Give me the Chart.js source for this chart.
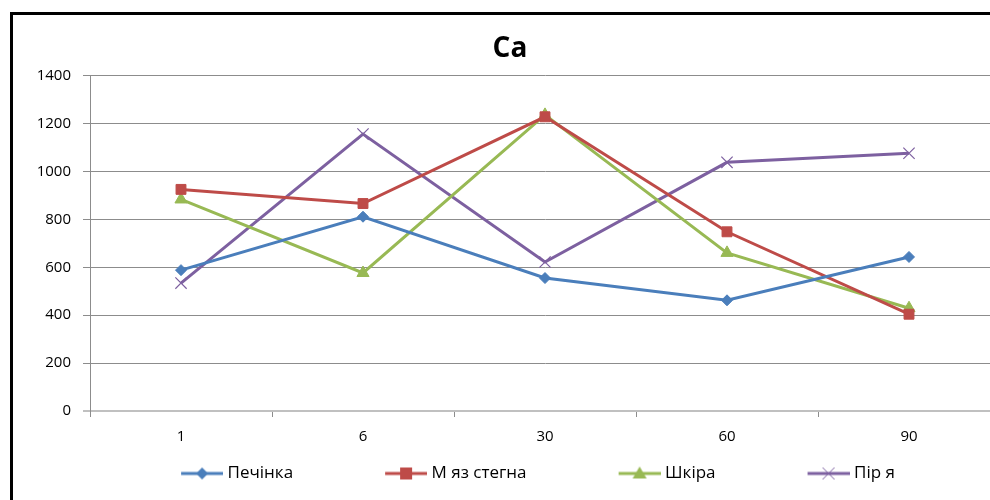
<!DOCTYPE html>
<html>
<head>
<meta charset="utf-8">
<script src="https://cdn.jsdelivr.net/npm/chart.js@4"></script>
<style>
html,body{margin:0;padding:0;background:#fff;overflow:hidden;width:990px;height:500px;}
#wrap{position:absolute;left:0;top:0;width:1020px;height:500px;}
</style>
</head>
<body>
<div id="wrap"><canvas id="c" width="1020" height="500"></canvas></div>
<script>
const categories = ['1', '6', '30', '60', '90'];
const seriesNames = ['Печінка', 'М яз стегна', 'Шкіра', 'Пір я'];
const pechinka = [588, 811, 555, 462, 643];
const myazStegna = [925, 866, 1228, 748, 404];
const shkira = [883, 576, 1236, 660, 429];
const pirYa = [534, 1156, 622, 1038, 1076];
const yTicks = [0, 200, 400, 600, 800, 1000, 1200, 1400];

const colors = ['#4A7EBB', '#BE4B48', '#98B954', '#7D60A0'];
const styles = ['rectRot', 'rect', 'triangle', 'crossRot'];
const radii = [5.5, 7, 7, 8];

const LEG_BOX = 120;      // legend box slot width (includes gap before icon)
const ICON_W = LEG_BOX + 8;
const LEGEND_SHIFT = -13;

function legendIcon(i) {
  const c = document.createElement('canvas');
  c.width = ICON_W; c.height = 16;
  const x = c.getContext('2d');
  const x0 = ICON_W - 42, x1 = ICON_W;
  x.strokeStyle = colors[i]; x.lineWidth = 3;
  x.beginPath(); x.moveTo(x0, 8); x.lineTo(x1, 8); x.stroke();
  x.fillStyle = colors[i];
  const cx = (x0 + x1) / 2, cy = 8;
  if (i === 0) { x.beginPath(); x.moveTo(cx, cy-6); x.lineTo(cx+6, cy); x.lineTo(cx, cy+6); x.lineTo(cx-6, cy); x.closePath(); x.fill(); }
  else if (i === 1) { x.fillRect(cx-6, cy-6, 12, 12); }
  else if (i === 2) { x.beginPath(); x.moveTo(cx, cy-7); x.lineTo(cx+7, cy+5); x.lineTo(cx-7, cy+5); x.closePath(); x.fill(); }
  else { x.lineWidth = 1; x.beginPath(); x.moveTo(cx-6, cy-6); x.lineTo(cx+6, cy+6); x.moveTo(cx+6, cy-6); x.lineTo(cx-6, cy+6); x.stroke(); }
  return c;
}

const allData = [pechinka, myazStegna, shkira, pirYa];
const datasets = allData.map((d, i) => ({
  label: seriesNames[i],
  data: d,
  borderColor: colors[i],
  backgroundColor: colors[i],
  borderWidth: 3,
  pointStyle: styles[i],
  pointRadius: radii[i],
  pointHoverRadius: radii[i],
  pointBorderWidth: i === 3 ? 1.2 : 1,
  pointBorderColor: colors[i],
  pointBackgroundColor: colors[i],
  tension: 0
}));

const framePlugin = {
  id: 'frame',
  afterUpdate(chart) {
    if (chart.legend) { chart.legend.left += LEGEND_SHIFT; chart.legend.right += LEGEND_SHIFT; }
  },
  beforeDraw(chart) {
    const ctx = chart.ctx;
    ctx.save();
    ctx.fillStyle = '#fff';
    ctx.fillRect(0, 0, chart.width, chart.height);
    ctx.strokeStyle = '#000';
    ctx.lineWidth = 3;
    ctx.beginPath();
    ctx.moveTo(11.5, 600);
    ctx.lineTo(11.5, 13.5);
    ctx.lineTo(1100, 13.5);
    ctx.stroke();
    ctx.restore();
  }
};

new Chart(document.getElementById('c'), {
  type: 'line',
  data: { labels: categories, datasets },
  plugins: [framePlugin],
  options: {
    responsive: false,
    animation: false,
    layout: { padding: { left: 20, right: 20, top: 0, bottom: 8 } },
    plugins: {
      title: {
        display: true,
        text: 'Ca',
        font: { family: 'Open Sans', size: 28, weight: 'bold' },
        color: '#000',
        padding: { top: 32, bottom: 10 }
      },
      legend: {
        position: 'bottom',
        labels: {
          font: { family: 'Open Sans', size: 17 },
          color: '#000',
          usePointStyle: true,
          pointStyleWidth: LEG_BOX,
          padding: 10,
          generateLabels(chart) {
            return chart.data.datasets.map((ds, i) => ({
              text: ds.label,
              pointStyle: legendIcon(i),
              fillStyle: colors[i],
              strokeStyle: colors[i],
              lineWidth: 0,
              datasetIndex: i,
              hidden: false
            }));
          }
        }
      },
      tooltip: { enabled: false }
    },
    scales: {
      x: {
        offset: true,
        afterFit(scale) { scale.height = 44; },
        grid: { display: true, offset: true, drawOnChartArea: false, tickLength: 6, color: '#8c8c8c' },
        border: { display: true, color: '#c0c0c0', width: 2 },
        ticks: { font: { family: 'Open Sans', size: 15 }, color: '#000', padding: 11 }
      },
      y: {
        min: 0,
        max: 1400,
        afterBuildTicks(scale) { scale.ticks = yTicks.map(v => ({ value: v })); },
        afterFit(scale) { scale.width = 70; },
        grid: {
          color: ctx => (ctx.tick && ctx.tick.value === 0) ? '#c0c0c0' : '#8c8c8c',
          lineWidth: ctx => (ctx.tick && ctx.tick.value === 0) ? 2 : 1,
          tickLength: 7
        },
        border: { display: true, color: '#8c8c8c', width: 1 },
        ticks: {
          font: { family: 'Open Sans', size: 15 }, color: '#000', padding: 12,
          callback: v => String(v)
        }
      }
    }
  }
});
</script>
</body>
</html>
